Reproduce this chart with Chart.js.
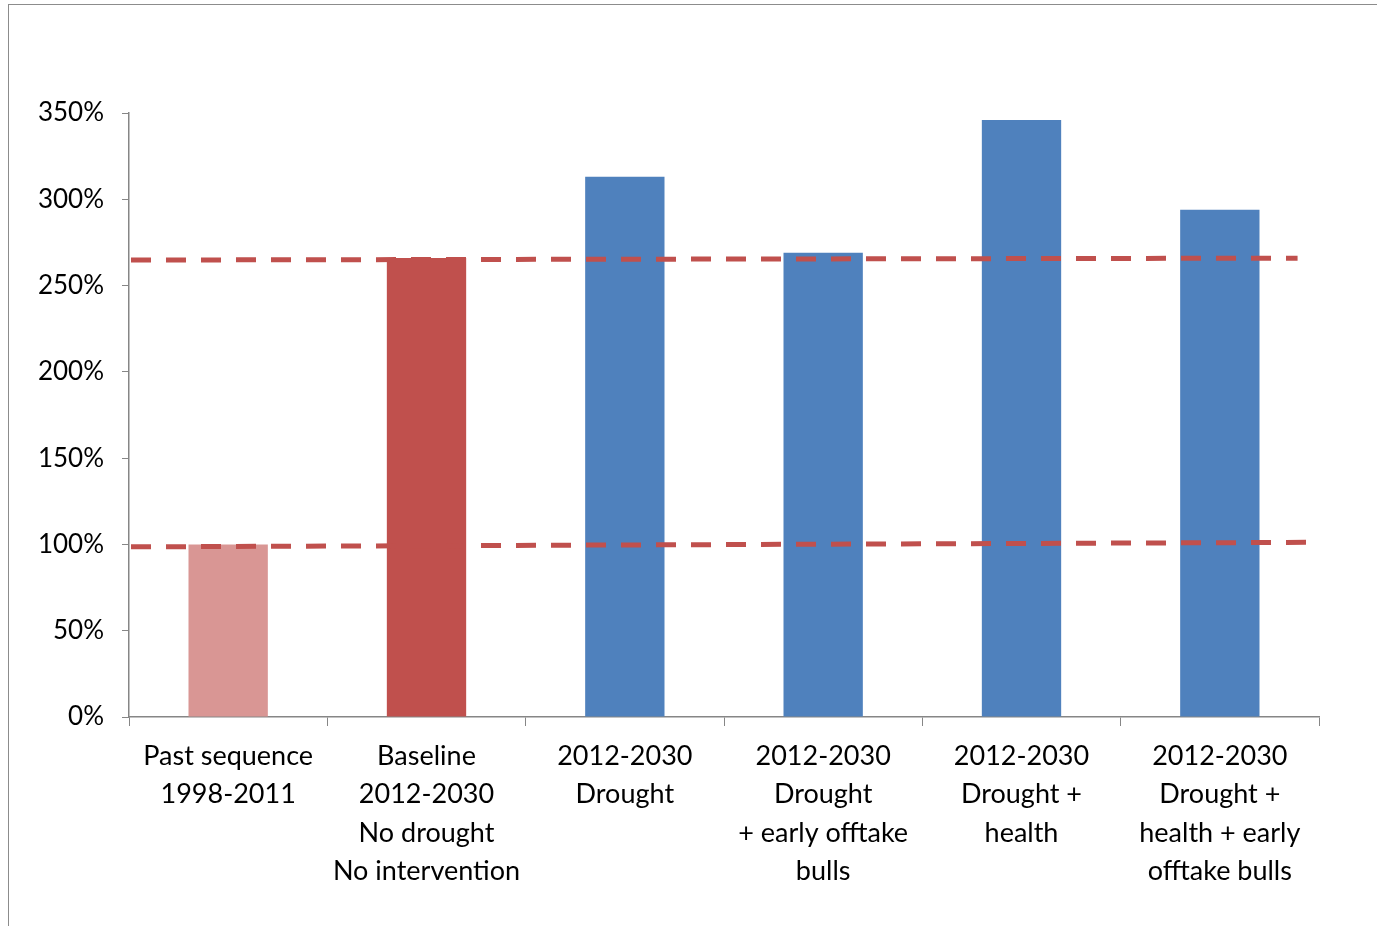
<!DOCTYPE html>
<html lang="en">

<head>
    <meta charset="UTF-8">
    <title>Herd size scenarios</title>
    <style>
        html, body { margin: 0; padding: 0; background: #fff; overflow: hidden; }
        #wrap { position: relative; width: 1377px; height: 926px; }
        #frame { position: absolute; left: 8px; top: 4px; width: 1400px; height: 960px; border: 1px solid #8c8c8c; pointer-events: none; }
    </style>
</head>

<body>
    <div id="wrap">
        <canvas id="myCanvas" width="1377" height="926"></canvas>
        <div id="frame"></div>
    </div>
    <script src="https://cdn.jsdelivr.net/npm/chart.js@4.4.0/dist/chart.umd.min.js"></script>
    <script>
        // scenario names (one line per row of the label)
        const labels = [
            ['Past sequence', '1998-2011'],
            ['Baseline', '2012-2030', 'No drought', 'No intervention'],
            ['2012-2030', 'Drought'],
            ['2012-2030', 'Drought', '+ early offtake', 'bulls'],
            ['2012-2030', 'Drought +', 'health'],
            ['2012-2030', 'Drought +', 'health + early', 'offtake bulls']
        ];
        // herd size relative to 1998-2011, in %
        const values = [100, 266, 313, 269, 346, 294];
        const barColors = ['#d99694', '#c0504d', '#4f81bd', '#4f81bd', '#4f81bd', '#4f81bd'];
        // reference levels (value at left end, value at right end)
        const refLines = [
            { from: 264.8, to: 265.9, end: 0.982 },
            { from: 98.6, to: 101.2, end: 0.991 }
        ];

        const refLinePlugin = {
            id: 'refLines',
            afterDatasetsDraw(chart) {
                const c = chart.ctx, y = chart.scales.y, a = chart.chartArea;
                c.save();
                c.strokeStyle = '#c0504d';
                c.lineWidth = 5;
                c.setLineDash([20, 15]);
                refLines.forEach(r => {
                    c.beginPath();
                    c.moveTo(a.left + 2, y.getPixelForValue(r.from));
                    c.lineTo(a.left + (a.right - a.left) * r.end, y.getPixelForValue(r.to));
                    c.stroke();
                });
                c.restore();
            }
        };

        const ctx = document.getElementById('myCanvas').getContext('2d');
        const myChart = new Chart(ctx, {
            type: 'bar',
            data: {
                labels: labels,
                datasets: [{
                    data: values,
                    backgroundColor: barColors,
                    barPercentage: 0.4,
                    categoryPercentage: 1
                }]
            },
            options: {
                responsive: false,
                animation: false,
                layout: { padding: { top: 113, right: 58, left: 0, bottom: 0 } },
                plugins: { legend: { display: false }, tooltip: { enabled: false } },
                scales: {
                    x: {
                        grid: { drawOnChartArea: false, color: '#868686', tickLength: 9, offset: true },
                        border: { color: '#868686', width: 1.5 },
                        ticks: {
                            color: '#000',
                            maxRotation: 0,
                            autoSkip: false,
                            padding: 11,
                            font: { family: 'Lato', size: 27, lineHeight: 1.42 }
                        },
                        afterFit: s => { s.height = 209; }
                    },
                    y: {
                        min: 0,
                        max: 350,
                        grid: { drawOnChartArea: false, color: '#868686', tickLength: 7 },
                        border: { color: '#868686', width: 1.5 },
                        ticks: {
                            stepSize: 50,
                            color: '#000',
                            padding: 18,
                            font: { family: 'Lato', size: 26 },
                            callback: v => v + '%'
                        },
                        afterFit: s => { s.width = 129; }
                    }
                }
            },
            plugins: [refLinePlugin]
        });
    </script>
</body>

</html>
